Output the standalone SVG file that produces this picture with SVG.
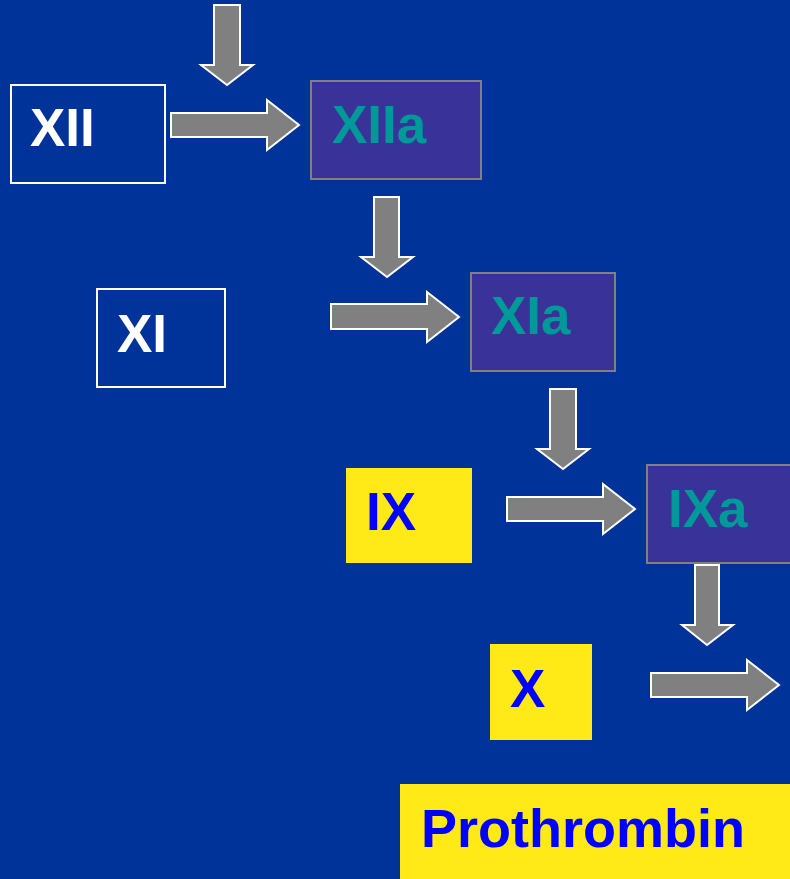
<svg xmlns="http://www.w3.org/2000/svg" width="790" height="879" viewBox="0 0 790 879">
<style>
.lbl{font-family:"Liberation Sans",Arial,sans-serif;font-weight:bold;font-size:53px}
.w{fill:#ffffff}
.t{fill:#009999}
.b{fill:#0000ff}
.inact{fill:none;stroke:#ffffff;stroke-width:2}
.act{fill:#393399;stroke:#808080;stroke-width:2}
.yel{fill:#ffea17}
.arr{fill:#808080;stroke:#ffffff;stroke-width:2;stroke-linejoin:miter}
</style>
<rect width="790" height="879" fill="#003399"/>
<g id="connectors">
<path class="arr" d="M214,5 H240 V65 H253 L227,85 L201,65 H214 Z"/>
<path class="arr" d="M171,113 H267 V100 L299,125 L267,150 V137 H171 Z"/>
<path class="arr" d="M374,197 H399 V257 H413 L387,277 L361,257 H374 Z"/>
<path class="arr" d="M331,304 H427 V292 L459,317 L427,342 V329 H331 Z"/>
<path class="arr" d="M550,389 H576 V449 H589 L563,469 L537,449 H550 Z"/>
<path class="arr" d="M507,497 H603 V484 L635,509 L603,534 V521 H507 Z"/>
<path class="arr" d="M695,565 H719 V625 H733 L707,645 L682,625 H695 Z"/>
<path class="arr" d="M651,673 H747 V660 L779,685 L747,710 V697 H651 Z"/>
</g>
<g id="XII">
<rect class="inact" x="11" y="85" width="154" height="98"/>
<text class="lbl w" x="30" y="146">XII</text>
</g>
<g id="XIIa">
<rect class="act" x="311" y="81" width="170" height="98"/>
<text class="lbl t" x="332" y="143">XIIa</text>
</g>
<g id="XI">
<rect class="inact" x="97" y="289" width="128" height="98"/>
<text class="lbl w" x="117" y="352">XI</text>
</g>
<g id="XIa">
<rect class="act" x="471" y="273" width="144" height="98"/>
<text class="lbl t" x="491" y="334">XIa</text>
</g>
<g id="IX">
<rect class="yel" x="346" y="468" width="126" height="95"/>
<text class="lbl b" x="366" y="530">IX</text>
</g>
<g id="IXa">
<rect class="act" x="647" y="465" width="144" height="98"/>
<text class="lbl t" x="668" y="527">IXa</text>
</g>
<g id="X">
<rect class="yel" x="490" y="644" width="102" height="96"/>
<text class="lbl b" x="510" y="707">X</text>
</g>
<g id="Prothrombin">
<rect class="yel" x="400" y="784" width="390" height="95"/>
<text class="lbl b" x="421" y="847" style="font-size:54px">Prothrombin</text>
</g>
</svg>
